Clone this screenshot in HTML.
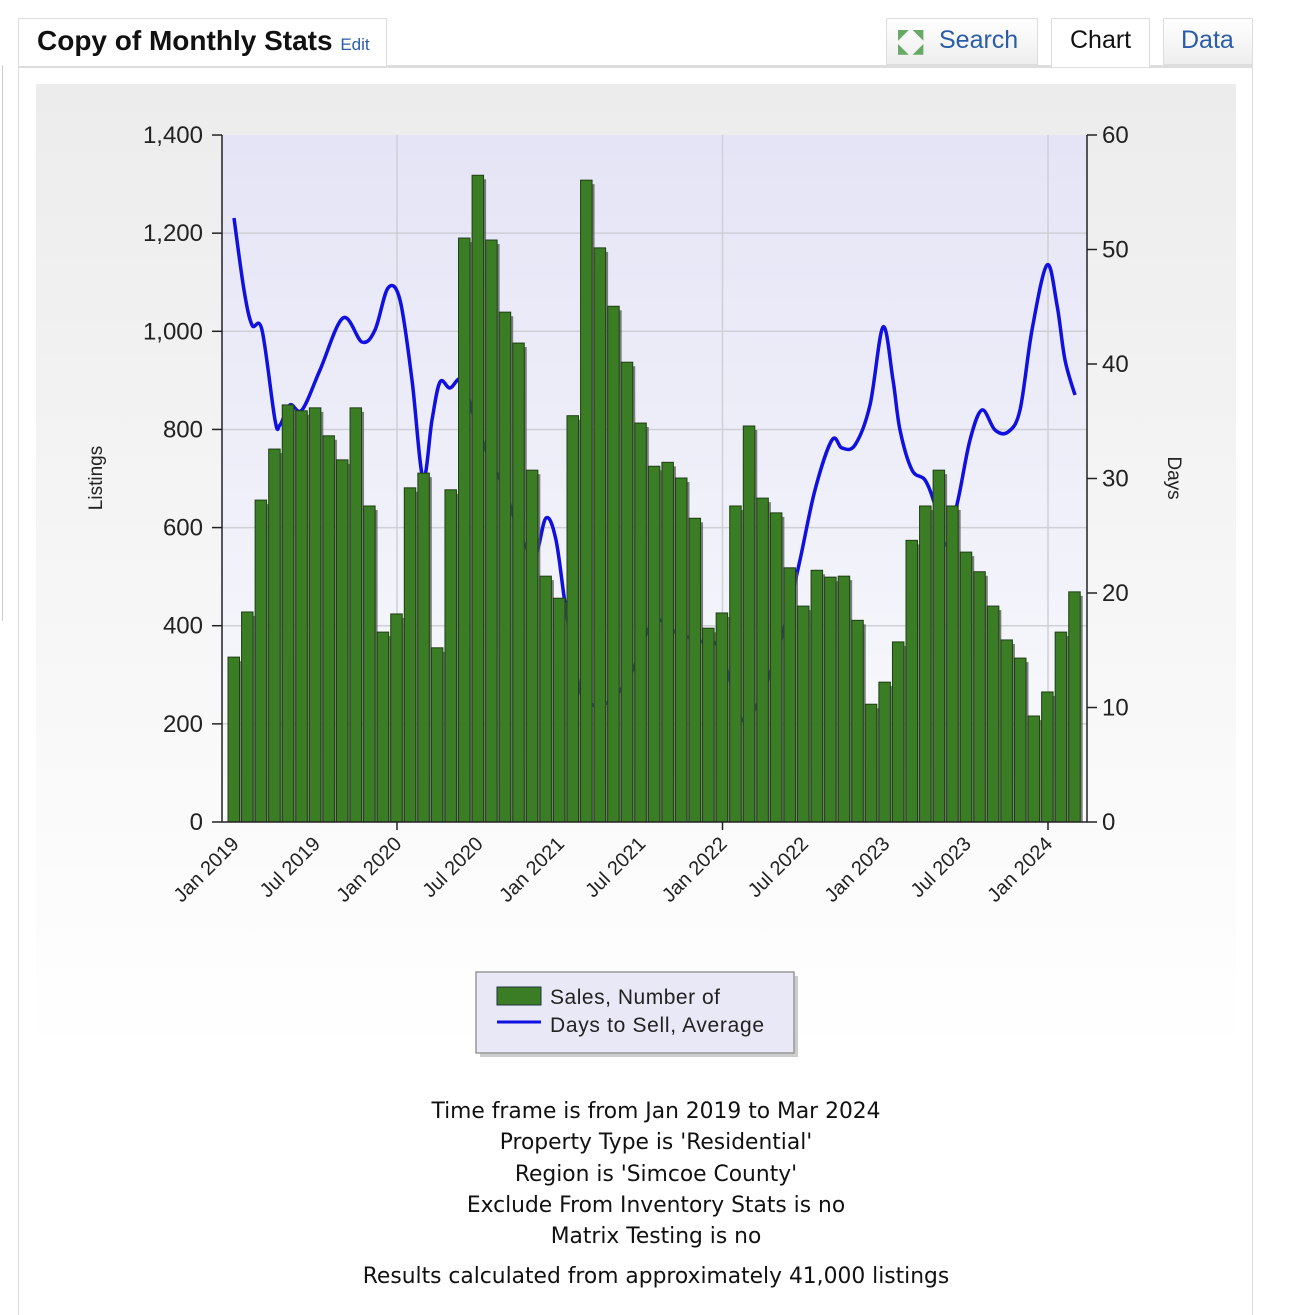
<!DOCTYPE html>
<html><head><meta charset="utf-8">
<style>
body{margin:0;width:1296px;height:1304px;background:#fff;position:relative;overflow:hidden;font-family:"Liberation Sans",sans-serif}
.abs{position:absolute}
.foot{position:absolute;left:0;width:1312px;text-align:center;font-family:"DejaVu Sans",sans-serif;font-size:21.8px;color:#111}
</style></head><body>
<div class="abs" style="left:2px;top:65px;width:1px;height:556px;background:#ccc"></div>
<div class="abs" style="left:18px;top:65px;width:1235px;height:1250px;border-left:1px solid #ddd;border-right:1px solid #ddd;border-top:3px solid #ddd;box-sizing:border-box"></div>
<div class="abs" style="left:18px;top:18px;width:369px;height:48px;border:1px solid #ddd;border-bottom:none;background:#fff;box-sizing:border-box"></div>
<div class="abs" style="left:37px;top:25px;font-size:28px;font-weight:bold;color:#111;white-space:nowrap">Copy of Monthly Stats <span style="font-size:17px;font-weight:normal;color:#2a5caa">Edit</span></div>
<div class="abs" style="left:886px;top:18px;width:152px;height:47px;border:1px solid #ddd;background:linear-gradient(#fff,#eee);box-sizing:border-box"></div>
<div class="abs" style="left:898px;top:27px;width:34px;height:30px;color:#6a6;font-size:14px;line-height:14px">◤ ◥<br>◣ ◢</div>
<div class="abs" style="left:939px;top:26px;font-size:25px;color:#2a5caa">Search</div>
<div class="abs" style="left:1051px;top:18px;width:99px;height:49px;border:1px solid #ddd;border-bottom:none;background:#fff;box-sizing:border-box"></div>
<div class="abs" style="left:1070px;top:26px;font-size:25px;color:#111">Chart</div>
<div class="abs" style="left:1163px;top:18px;width:90px;height:47px;border:1px solid #ddd;background:linear-gradient(#fff,#eee);box-sizing:border-box"></div>
<div class="abs" style="left:1181px;top:26px;font-size:25px;color:#2a5caa">Data</div>
<div class="abs" style="left:36px;top:84px;width:1200px;height:972px;background:linear-gradient(#ececec,#fff)"></div>
<svg class="abs" style="left:0;top:0" width="1296" height="1304" id="s" xmlns="http://www.w3.org/2000/svg">
<defs><linearGradient id="pg" x1="0" y1="0" x2="0" y2="1"><stop offset="0" stop-color="#e4e4f6"/><stop offset="1" stop-color="#fafafd"/></linearGradient></defs>
<rect x="222" y="135" width="865" height="687" fill="url(#pg)"/>
<g id="grid" stroke="#cfcfd6" stroke-width="1.5"></g>
<path id="ln" fill="none" stroke="#1010e0" stroke-width="3.5" stroke-linejoin="round"/>
<g id="bars"></g>
<g id="axes" stroke="#222" stroke-width="1.5" font-family="Liberation Sans,sans-serif" font-size="24" fill="#222"></g>
<text x="102" y="478" transform="rotate(-90 102 478)" text-anchor="middle" font-size="19" fill="#222" font-family="Liberation Sans,sans-serif">Listings</text>
<text x="1168" y="478" transform="rotate(90 1168 478)" text-anchor="middle" font-size="19" fill="#222" font-family="Liberation Sans,sans-serif">Days</text>
<rect x="480" y="976" width="318" height="81" fill="#aaa" opacity=".6"/>
<rect x="476" y="972" width="318" height="81" fill="#e8e8f6" stroke="#999" stroke-width="1.5"/>
<rect x="497" y="987" width="44" height="18" fill="#3a7d24" stroke="#234" stroke-width="1"/>
<line x1="497" y1="1022" x2="541" y2="1022" stroke="#1010e0" stroke-width="3"/>
<text x="550" y="1004" font-size="21" fill="#222" font-family="Liberation Sans,sans-serif" textLength="170">Sales, Number of</text>
<text x="550" y="1032" font-size="21" fill="#222" font-family="Liberation Sans,sans-serif" textLength="214">Days to Sell, Average</text>
</svg>
<div class="foot" style="top:1099px">Time frame is from Jan 2019 to Mar 2024</div>
<div class="foot" style="top:1130px">Property Type is 'Residential'</div>
<div class="foot" style="top:1162px">Region is 'Simcoe County'</div>
<div class="foot" style="top:1193px">Exclude From Inventory Stats is no</div>
<div class="foot" style="top:1224px">Matrix Testing is no</div>
<div class="foot" style="top:1264px">Results calculated from approximately 41,000 listings</div>
<script>
var NS="http://www.w3.org/2000/svg";
function el(t,a,p,txt){var e=document.createElementNS(NS,t);for(var k in a)e.setAttribute(k,a[k]);if(txt)e.textContent=txt;p.appendChild(e);return e;}
var vals=[336,428,656,760,850,838,844,787,738,844,644,387,424,681,711,355,677,1190,1318,1186,1039,976,717,501,456,828,1308,1170,1051,937,813,725,733,701,619,395,426,644,807,660,630,518,440,513,499,501,411,240,285,367,574,644,717,644,550,510,440,371,334,216,265,387,469];
var s=13.56,x0=234,base=822,k=0.4907;
var g=document.getElementById('grid');
for(var v=200;v<=1200;v+=200){var y=base-v*k;el('line',{x1:222,x2:1087,y1:y,y2:y},g);}
[397,722.5,1048].forEach(function(x){el('line',{x1:x,x2:x,y1:135,y2:822},g);});
var b=document.getElementById('bars');
vals.forEach(function(v,i){var cx=x0+i*s,y=base-v*k,h=v*k;
 el('rect',{x:cx-4,y:y+4,width:12,height:h-4,fill:'#555',opacity:'.75'},b);
 el('rect',{x:cx-6,y:y,width:11.5,height:h,fill:'#3a7d24',stroke:'#1f3f14','stroke-width':1},b);});
var pts=[[234,218],[244,290],[252,325],[262,330],[275,420],[280,425],[290,405],[302,410],[320,370],[343,318],[362,342],[375,330],[388,288],[400,300],[412,380],[423,478],[432,420],[440,382],[450,388],[462,380],[475,420],[490,460],[505,490],[520,535],[535,555],[546,518],[556,540],[566,610],[580,690],[593,705],[607,703],[622,688],[635,665],[648,630],[660,620],[675,632],[690,638],[703,642],[717,645],[730,680],[742,720],[757,705],[772,668],[785,625],[800,560],[815,490],[832,440],[842,448],[855,445],[870,405],[883,327],[893,380],[900,430],[912,470],[925,480],[935,505],[946,545],[958,500],[970,440],[982,410],[995,430],[1008,432],[1020,410],[1032,330],[1047,265],[1057,305],[1065,360],[1075,395]];
var d="M"+pts[0];
for(var i=0;i<pts.length-1;i++){var p0=pts[Math.max(0,i-1)],p1=pts[i],p2=pts[i+1],p3=pts[Math.min(pts.length-1,i+2)];
 d+=" C"+(p1[0]+(p2[0]-p0[0])/6)+","+(p1[1]+(p2[1]-p0[1])/6)+" "+(p2[0]-(p3[0]-p1[0])/6)+","+(p2[1]-(p3[1]-p1[1])/6)+" "+p2[0]+","+p2[1];}
document.getElementById('ln').setAttribute('d',d);
var a=document.getElementById('axes');
el('line',{x1:222,x2:222,y1:135,y2:822},a);el('line',{x1:1087,x2:1087,y1:135,y2:822},a);
el('line',{x1:222,x2:1087,y1:822,y2:822},a);
for(var v=0;v<=1400;v+=200){var y=base-v*k;el('line',{x1:212,x2:222,y1:y,y2:y},a);
 el('text',{x:203,y:y+8,'text-anchor':'end',stroke:'none'},a,v>=1000?(Math.floor(v/1000)+","+String(v%1000).padStart(3,'0')):String(v));}
for(var d2=0;d2<=60;d2+=10){var y=base-d2*11.45;el('line',{x1:1087,x2:1097,y1:y,y2:y},a);
 el('text',{x:1102,y:y+8,stroke:'none'},a,String(d2));}
[397,722.5,1048].forEach(function(x){el('line',{x1:x,x2:x,y1:822,y2:830},a);});
var labs=["Jan 2019","Jul 2019","Jan 2020","Jul 2020","Jan 2021","Jul 2021","Jan 2022","Jul 2022","Jan 2023","Jul 2023","Jan 2024"];
labs.forEach(function(t,i){var x=x0+i*6*s+6,y=845;
 el('text',{x:x,y:y,'text-anchor':'end','font-size':20,stroke:'none',transform:'rotate(-45 '+x+' '+y+')'},a,t);});
</script>
</body></html>
